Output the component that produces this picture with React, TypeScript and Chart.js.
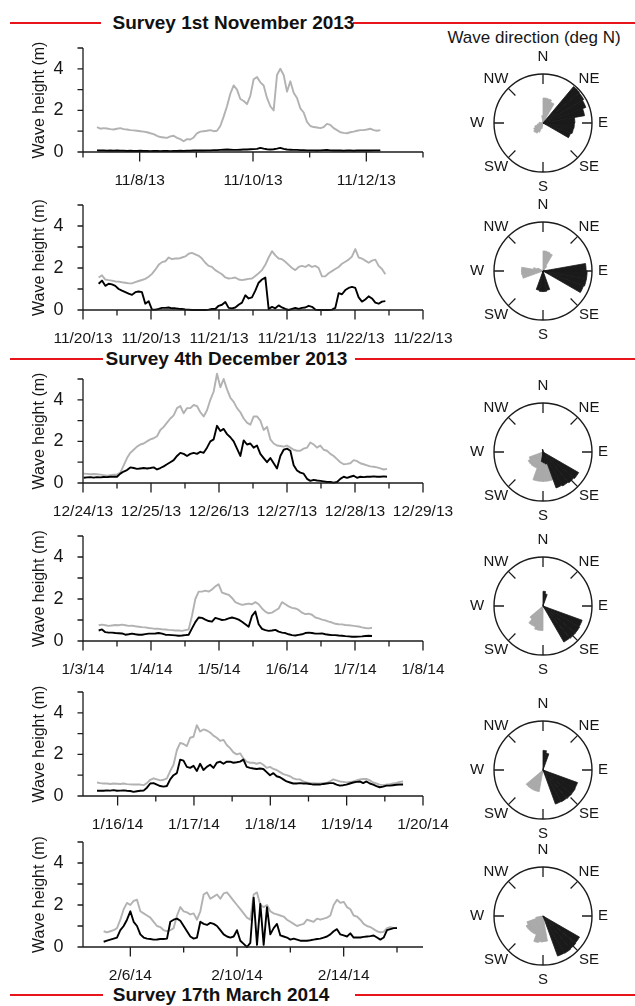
import React, { useEffect, useRef } from 'react';
import { Chart, registerables } from 'chart.js';

Chart.register(...registerables);
const FONT = "'Liberation Sans', Arial, Helvetica, sans-serif";
Chart.defaults.font.family = FONT;
Chart.defaults.color = '#161616';

// ================= DATA =================
const yTickValues = [0, 1, 2, 3, 4, 5];
const yTickLabels = ['0', '', '2', '', '4', ''];
const yTitle = 'Wave height (m)';

// Panel 1 : x = days since 11/7/13
const p1Range = [0, 6];
const p1TickValues = [0, 1, 2, 3, 4, 5, 6];
const p1TickLabels = ['', '11/8/13', '', '11/10/13', '', '11/12/13', ''];
const p1Time = [0.247, 5.247];
const p1Grey = [1.2,1.12,1.15,1.13,1.1,1.08,1.12,1.15,1.1,1.08,1.05,1.04,1.02,1.0,0.98,0.95,0.9,0.86,0.78,0.72,0.7,0.68,0.75,0.78,0.68,0.62,0.52,0.62,0.6,0.7,0.9,0.98,1.0,1.02,1.05,1.0,1.02,1.25,1.7,2.2,2.8,3.2,3.0,2.55,2.45,2.3,2.7,3.5,3.6,3.35,3.2,2.6,2.2,2.0,3.7,4.0,3.7,2.9,3.4,2.85,2.6,2.1,1.9,1.45,1.25,1.2,1.18,1.15,1.2,1.35,1.3,1.15,1.05,0.95,0.92,0.9,0.95,0.98,1.02,1.05,1.05,1.08,1.12,1.05,1.02,1.05];
const p1Black = [0.08,0.07,0.07,0.06,0.07,0.06,0.07,0.06,0.06,0.05,0.06,0.05,0.05,0.06,0.05,0.05,0.04,0.05,0.05,0.04,0.05,0.05,0.04,0.05,0.05,0.06,0.05,0.06,0.06,0.07,0.07,0.08,0.07,0.08,0.08,0.09,0.09,0.1,0.11,0.12,0.11,0.1,0.1,0.11,0.12,0.12,0.13,0.14,0.15,0.2,0.16,0.13,0.12,0.13,0.16,0.2,0.15,0.12,0.11,0.1,0.1,0.09,0.09,0.08,0.08,0.08,0.07,0.08,0.09,0.1,0.08,0.07,0.07,0.07,0.06,0.07,0.07,0.06,0.07,0.07,0.08,0.07,0.07,0.08,0.08,0.08];

// Panel 2 : x = hours since 11/20/13 00:00
const p2Range = [0, 60];
const p2TickValues = [0, 6, 12, 18, 24, 30, 36, 42, 48, 54, 60];
const p2TickLabels = ['11/20/13', '', '11/20/13', '', '11/21/13', '', '11/21/13', '', '11/22/13', '', '11/22/13'];
const p2Time = [2.76, 53.35];
const p2Grey = [1.55,1.65,1.45,1.42,1.4,1.36,1.35,1.32,1.3,1.27,1.27,1.33,1.38,1.43,1.48,1.58,1.72,1.92,2.15,2.28,2.32,2.5,2.42,2.45,2.45,2.5,2.55,2.68,2.72,2.65,2.58,2.45,2.25,2.1,2.05,1.9,1.8,1.7,1.55,1.5,1.52,1.55,1.45,1.42,1.45,1.48,1.5,1.62,1.75,1.9,2.15,2.5,2.8,2.6,2.45,2.42,2.3,2.15,2.0,1.9,2.05,2.1,2.05,2.15,2.05,2.1,2.0,1.6,1.6,1.75,1.85,1.95,2.05,2.2,2.3,2.4,2.55,2.9,2.5,2.45,2.35,2.25,2.35,2.4,2.1,1.95,1.7];
const p2Black = [1.25,1.4,1.15,1.25,1.22,1.15,1.0,0.92,0.85,0.78,0.72,0.85,0.88,0.85,0.3,0.42,0.02,0.02,0.05,0.1,0.1,0.12,0.08,0.08,0.06,0.05,0.03,0.02,0.0,0.0,0.0,0.0,0.0,0.02,0.05,0.05,0.2,0.25,0.38,0.1,0.08,0.12,0.25,0.35,0.7,0.55,0.6,0.92,1.3,1.45,1.55,0.05,0.15,0.08,0.22,0.12,0.05,0.0,0.05,0.1,0.05,0.1,0.12,0.2,0.15,0.02,0.0,0.0,0.0,0.0,0.02,0.1,0.8,0.75,0.95,1.05,1.1,1.05,0.6,0.4,0.5,0.65,0.55,0.35,0.3,0.4,0.42];

// Panel 3 : x = hours since 12/24/13 00:00
const p3Range = [0, 120];
const p3TickValues = [0, 12, 24, 36, 48, 60, 72, 84, 96, 108, 120];
const p3TickLabels = ['12/24/13', '', '12/25/13', '', '12/26/13', '', '12/27/13', '', '12/28/13', '', '12/29/13'];
const p3Time = [0.24, 107.3];
const p3Grey = [0.45,0.44,0.42,0.43,0.42,0.4,0.38,0.35,0.38,0.4,0.4,0.5,0.85,1.2,1.45,1.6,1.75,1.85,1.9,2.0,2.1,2.15,2.25,2.55,2.7,2.9,3.1,3.25,3.6,3.7,3.35,3.6,3.6,3.75,3.7,3.4,3.2,3.5,4.0,4.4,5.25,4.6,5.0,4.5,4.1,3.9,3.6,3.4,3.1,2.9,2.8,3.2,3.2,3.0,2.55,2.7,2.1,1.9,1.8,1.78,1.75,1.8,1.7,1.6,1.55,1.55,1.65,1.7,1.95,1.85,1.7,1.8,1.6,1.55,1.4,1.3,1.15,1.0,0.9,0.92,0.95,1.1,1.05,0.95,0.9,0.85,0.8,0.78,0.75,0.7,0.65,0.68];
const p3Black = [0.25,0.27,0.28,0.26,0.28,0.27,0.29,0.28,0.3,0.3,0.3,0.45,0.55,0.62,0.75,0.72,0.68,0.7,0.72,0.7,0.72,0.75,0.65,0.72,0.8,0.9,1.0,1.1,1.3,1.45,1.4,1.3,1.4,1.45,1.4,1.5,1.45,1.7,2.0,2.1,2.75,2.5,2.6,2.35,2.2,2.0,1.65,1.3,2.05,1.85,1.9,1.7,1.8,1.4,1.2,1.0,1.2,0.95,0.7,1.3,1.6,1.65,1.55,0.85,0.6,0.5,0.45,0.2,0.1,0.15,0.12,0.1,0.08,0.05,0.05,0.02,0.05,0.2,0.3,0.25,0.3,0.35,0.25,0.3,0.28,0.3,0.3,0.32,0.3,0.3,0.32,0.3];

// Panel 4 : x = hours since 1/3/14 00:00
const p4Range = [0, 120];
const p4TickValues = [0, 12, 24, 36, 48, 60, 72, 84, 96, 108, 120];
const p4TickLabels = ['1/3/14', '', '1/4/14', '', '1/5/14', '', '1/6/14', '', '1/7/14', '', '1/8/14'];
const p4Time = [5.53, 102.0];
const p4Grey = [0.75,0.78,0.75,0.72,0.74,0.76,0.75,0.78,0.75,0.72,0.73,0.7,0.68,0.66,0.65,0.62,0.6,0.58,0.58,0.56,0.55,0.53,0.52,0.5,0.5,0.48,0.52,0.55,1.2,2.0,2.35,2.35,2.4,2.35,2.45,2.6,2.7,2.3,2.25,2.2,2.05,1.85,1.78,1.72,1.75,1.78,1.75,1.85,1.75,1.55,1.4,1.32,1.35,1.45,1.55,1.85,1.75,1.65,1.58,1.55,1.48,1.35,1.28,1.3,1.25,1.12,1.08,1.02,0.98,0.92,0.88,0.82,0.8,0.79,0.76,0.75,0.73,0.71,0.69,0.65,0.62,0.6,0.63];
const p4Black = [0.5,0.55,0.42,0.4,0.4,0.38,0.37,0.36,0.3,0.32,0.35,0.32,0.3,0.3,0.33,0.35,0.35,0.36,0.38,0.35,0.3,0.29,0.28,0.27,0.25,0.26,0.28,0.3,0.6,0.9,1.12,1.1,1.02,0.95,0.92,1.1,1.05,1.0,1.02,1.08,1.12,1.08,1.02,0.92,0.8,0.68,1.2,1.4,0.8,0.58,0.52,0.48,0.5,0.53,0.45,0.4,0.38,0.32,0.28,0.26,0.29,0.32,0.38,0.4,0.38,0.35,0.35,0.36,0.32,0.3,0.28,0.28,0.26,0.25,0.23,0.22,0.2,0.2,0.21,0.22,0.24,0.25,0.24];

// Panel 5 : x = days since 1/15/14 00:00
const p5Range = [0.5465, 5];
const p5TickValues = [1, 1.5, 2, 2.5, 3, 3.5, 4, 4.5, 5];
const p5TickLabels = ['1/16/14', '', '1/17/14', '', '1/18/14', '', '1/19/14', '', '1/20/14'];
const p5Time = [0.73, 4.739];
const p5Grey = [0.65,0.62,0.6,0.6,0.58,0.6,0.59,0.58,0.6,0.57,0.56,0.55,0.56,0.55,0.52,0.62,0.78,0.85,0.8,0.75,0.78,0.85,1.2,1.5,2.2,2.55,2.5,2.4,2.8,2.85,3.4,3.1,3.2,3.15,3.05,2.9,2.8,2.65,2.7,2.45,2.3,2.1,2.0,2.05,1.8,1.65,1.6,1.6,1.55,1.6,1.5,1.35,1.4,1.3,1.25,1.15,1.05,1.0,0.95,0.85,0.8,0.8,0.7,0.65,0.63,0.62,0.6,0.6,0.61,0.62,0.7,0.8,0.75,0.7,0.68,0.65,0.67,0.7,0.75,0.8,0.82,0.82,0.75,0.65,0.6,0.55,0.52,0.55,0.57,0.6,0.63,0.68,0.7];
const p5Black = [0.25,0.26,0.25,0.27,0.26,0.28,0.25,0.26,0.27,0.25,0.24,0.2,0.23,0.25,0.26,0.4,0.6,0.62,0.55,0.48,0.45,0.48,0.8,1.0,1.1,1.75,1.7,1.4,1.35,1.45,1.2,1.55,1.25,1.4,1.5,1.35,1.6,1.65,1.55,1.65,1.65,1.6,1.62,1.65,1.75,1.4,1.35,1.32,1.3,1.32,1.3,1.15,1.0,1.1,0.95,0.9,0.8,0.7,0.65,0.6,0.6,0.62,0.6,0.6,0.58,0.55,0.56,0.55,0.58,0.6,0.62,0.62,0.55,0.5,0.52,0.55,0.6,0.65,0.68,0.7,0.62,0.7,0.6,0.55,0.48,0.42,0.45,0.5,0.5,0.52,0.54,0.55,0.55];

// Panel 6 : x = days since 2/4/14 00:00
const p6Range = [0.225, 12.975];
const p6TickValues = [2, 4, 6, 8, 10, 12];
const p6TickLabels = ['2/6/14', '', '2/10/14', '', '2/14/14', ''];
const p6Time = [1.0, 12.0];
const p6Grey = [0.75,0.7,0.75,0.8,0.9,1.3,1.8,2.1,2.0,2.2,2.25,1.7,1.6,1.5,1.4,1.2,1.0,0.95,0.8,0.75,0.8,0.9,1.5,1.9,1.7,1.65,1.55,1.6,1.3,1.7,2.5,2.6,2.3,2.4,2.5,2.3,2.55,2.6,2.4,2.2,2.0,1.8,1.6,1.4,1.3,2.5,2.6,2.0,1.9,2.0,1.7,1.6,1.55,1.5,1.45,1.3,1.2,1.1,1.0,1.05,1.1,1.3,1.25,1.2,1.35,1.3,1.35,1.4,1.5,2.0,2.25,2.1,2.15,1.9,1.8,1.5,1.45,1.3,1.1,1.0,0.95,0.85,0.75,0.7,0.72,0.9,0.95,0.9,0.92];
const p6Black = [0.25,0.3,0.35,0.4,0.45,0.8,1.0,1.3,1.7,1.2,1.0,0.6,0.45,0.4,0.38,0.35,0.36,0.38,0.38,0.4,1.2,1.3,1.35,1.25,1.0,0.75,0.5,0.4,0.45,1.2,1.1,1.05,1.15,1.1,1.0,0.8,0.6,0.5,0.45,0.5,0.8,0.3,0.15,0.0,0.2,2.35,0.1,2.05,0.1,1.9,0.6,0.9,1.1,0.55,0.5,0.45,0.35,0.4,0.35,0.3,0.3,0.3,0.32,0.35,0.38,0.4,0.45,0.5,0.6,0.75,0.85,0.6,0.55,0.5,0.65,0.45,0.45,0.45,0.48,0.5,0.52,0.55,0.45,0.35,0.45,0.8,0.85,0.9,0.9];

// Wave roses: 36 direction bins of 10 deg (clockwise from N), relative radius
const compassLabels = ['N', 'NE', 'E', 'SE', 'S', 'SW', 'W', 'NW'];
const dirBins = Array.from({ length: 36 }, (_, i) => `${i * 10}°`);
const rose1Black = [0,0,0,0,0.97,0.96, 0.93,0.86,0.65,0.64,0.63,0.6, 0,0,0,0,0,0, 0,0,0,0,0,0, 0,0,0,0,0,0, 0,0,0,0,0,0];
const rose1Grey  = [0.51,0.5,0.45,0,0,0, 0,0,0,0,0,0, 0,0,0,0,0,0, 0,0.12,0.2,0.24,0.25,0.22, 0.18,0.12,0,0.08,0,0, 0,0,0,0,0,0.15];
const rose2Black = [0,0,0,0,0,0, 0,0,0.88,0.9,0.9,0.88, 0,0,0,0,0.4,0.42, 0.42,0.4,0,0,0,0, 0,0,0,0,0,0, 0,0,0,0,0,0];
const rose2Grey  = [0.41,0.4,0.38,0.12,0,0, 0,0,0,0,0,0, 0,0,0,0,0,0, 0,0,0,0,0,0, 0,0.43,0.44,0.44,0.2,0.12, 0,0,0,0,0,0];
const rose3Black = [0,0,0,0,0,0, 0,0,0,0,0,0, 0.84,0.82,0.8,0.78,0.25,0.22, 0.2,0,0,0,0,0, 0,0,0,0,0,0, 0,0,0,0,0.05,0.05];
const rose3Grey  = [0,0,0,0,0,0, 0,0,0,0,0,0, 0,0,0,0,0.6,0.6, 0.6,0.6,0.35,0.35,0.35,0.35, 0.3,0,0,0,0,0, 0,0,0,0,0,0];
const rose4Black = [0.3,0.25,0,0,0,0, 0,0,0,0,0,0.85, 0.86,0.86,0.85,0,0,0, 0,0,0,0,0,0, 0,0,0,0,0,0, 0,0,0,0,0,0];
const rose4Grey  = [0,0,0,0,0,0, 0,0,0,0,0,0, 0,0,0,0,0,0, 0.5,0.5,0.45,0.45,0.35,0, 0,0,0,0,0,0, 0,0,0,0,0,0];
const rose5Black = [0.4,0.35,0,0,0,0, 0,0,0,0,0,0.75, 0.76,0.76,0.75,0.74,0,0, 0,0,0,0,0,0, 0,0,0,0,0,0, 0,0,0,0,0,0];
const rose5Grey  = [0,0,0,0,0,0, 0,0,0,0,0,0, 0,0,0,0,0,0, 0,0.45,0.45,0.45,0.45,0, 0,0,0,0,0,0, 0,0,0,0,0,0];
const rose6Black = [0,0,0,0,0,0, 0,0,0,0,0,0, 0.86,0.87,0.88,0.87,0,0, 0,0,0,0,0,0, 0,0,0,0,0,0, 0,0,0,0,0,0];
const rose6Grey  = [0,0,0,0,0,0, 0,0,0,0,0,0, 0,0,0,0,0,0.52, 0.53,0.55,0.4,0.4,0.4,0.4, 0.35,0.15,0,0,0,0, 0,0,0,0,0,0];

const headerTexts = ['Survey 1st November 2013', 'Survey 4th December 2013', 'Survey 17th March 2014'];
const roseTitle = 'Wave direction (deg N)';

// ================= LAYOUT / STYLE =================
const AXIS = '#1c1c1c';
const GREY = '#b2b2b2';
const RED = '#e8141c';
const CANVAS_W = 470;
const PLOT_LEFT = 83;
const PLOT_RIGHT = 423;
const PAD_TOP = 12;
const XAXIS_H = 45;

const panels = [
  { top: 48.2, bottom: 152.3, range: p1Range, tv: p1TickValues, tl: p1TickLabels, time: p1Time, grey: p1Grey, black: p1Black },
  { top: 205, bottom: 310, range: p2Range, tv: p2TickValues, tl: p2TickLabels, time: p2Time, grey: p2Grey, black: p2Black },
  { top: 379.3, bottom: 483.3, range: p3Range, tv: p3TickValues, tl: p3TickLabels, time: p3Time, grey: p3Grey, black: p3Black },
  { top: 535.7, bottom: 640.7, range: p4Range, tv: p4TickValues, tl: p4TickLabels, time: p4Time, grey: p4Grey, black: p4Black },
  { top: 691.7, bottom: 796, range: p5Range, tv: p5TickValues, tl: p5TickLabels, time: p5Time, grey: p5Grey, black: p5Black },
  { top: 842.3, bottom: 947.3, range: p6Range, tv: p6TickValues, tl: p6TickLabels, time: p6Time, grey: p6Grey, black: p6Black },
];

const roses = [
  { cy: 122.5, black: rose1Black, grey: rose1Grey },
  { cy: 271, black: rose2Black, grey: rose2Grey },
  { cy: 452, black: rose3Black, grey: rose3Grey },
  { cy: 606, black: rose4Black, grey: rose4Grey },
  { cy: 770, black: rose5Black, grey: rose5Grey },
  { cy: 916, black: rose6Black, grey: rose6Grey },
];
const ROSE_CX = 543;
const ROSE_SIZE = 170;

const headers = [
  { y: 22.5, cx: 233.5, leftEnd: 101, rightStart: 353 },
  { y: 359, cx: 226.5, leftEnd: 103, rightStart: 355 },
  { y: 994.5, cx: 221, leftEnd: 103, rightStart: 355 },
];

function series(values: number[], time: number[]) {
  const n = values.length;
  return values.map((v, i) => ({ x: time[0] + (i * (time[1] - time[0])) / (n - 1), y: v }));
}

function WavePanel({ p }: { p: any }) {
  const ref = useRef<HTMLCanvasElement>(null);
  const height = PAD_TOP + (p.bottom - p.top) + XAXIS_H;
  useEffect(() => {
    const labelled = p.tv.filter((_: number, i: number) => p.tl[i] !== '');
    const axesPlugin = {
      id: 'axesMarks',
      afterDraw(chart: any) {
        const { ctx, chartArea, scales } = chart;
        const x = scales.x, y = scales.y;
        ctx.save();
        ctx.strokeStyle = AXIS;
        ctx.lineWidth = 1.3;
        ctx.lineCap = 'butt';
        ctx.beginPath();
        ctx.moveTo(chartArea.left, y.getPixelForValue(5));
        ctx.lineTo(chartArea.left, chartArea.bottom);
        ctx.moveTo(chartArea.left - 0.6, chartArea.bottom);
        ctx.lineTo(chartArea.right, chartArea.bottom);
        for (const v of yTickValues) {
          const py = y.getPixelForValue(v);
          ctx.moveTo(chartArea.left - 5.5, py);
          ctx.lineTo(chartArea.left, py);
        }
        p.tv.forEach((v: number, i: number) => {
          const px = x.getPixelForValue(v);
          const len = p.tl[i] !== '' ? 9.5 : 5.5;
          ctx.moveTo(px, chartArea.bottom);
          ctx.lineTo(px, chartArea.bottom + len);
        });
        ctx.stroke();
        ctx.restore();
      },
    };
    const chart = new Chart(ref.current as HTMLCanvasElement, {
      type: 'line',
      data: {
        datasets: [
          { data: series(p.black, p.time), borderColor: '#000', borderWidth: 1.9, pointRadius: 0, tension: 0, clip: false, borderJoinStyle: 'round' } as any,
          { data: series(p.grey, p.time), borderColor: GREY, borderWidth: 1.9, pointRadius: 0, tension: 0, clip: false, borderJoinStyle: 'round' } as any,
        ],
      },
      options: {
        animation: false,
        responsive: false,
        events: [],
        layout: { padding: { top: PAD_TOP, right: CANVAS_W - PLOT_RIGHT, bottom: 0, left: 0 } },
        plugins: { legend: { display: false }, tooltip: { enabled: false } },
        scales: {
          x: {
            type: 'linear',
            min: p.range[0],
            max: p.range[1],
            grid: { display: false, drawTicks: false },
            border: { display: false },
            afterBuildTicks: (s: any) => { s.ticks = labelled.map((v: number) => ({ value: v })); },
            afterFit: (s: any) => { s.height = XAXIS_H; s.paddingLeft = 0; s.paddingRight = 0; },
            ticks: {
              autoSkip: false, maxRotation: 0, minRotation: 0, padding: 19,
              font: { size: 15.5, family: FONT }, color: '#161616',
              callback: (v: any) => {
                const i = p.tv.findIndex((t: number) => Math.abs(t - v) < 1e-6);
                return i >= 0 ? p.tl[i] : '';
              },
            },
          },
          y: {
            type: 'linear',
            min: 0,
            max: 5,
            grid: { display: false, drawTicks: false },
            border: { display: false },
            afterBuildTicks: (s: any) => { s.ticks = yTickValues.filter((_, i) => yTickLabels[i] !== '').map((v) => ({ value: v })); },
            afterFit: (s: any) => { s.width = PLOT_LEFT; s.paddingTop = 0; s.paddingBottom = 0; },
            ticks: {
              padding: 19.5, font: { size: 18, family: FONT }, color: '#161616',
              callback: (v: any) => {
                const i = yTickValues.indexOf(Number(v));
                return i >= 0 ? yTickLabels[i] : '';
              },
            },
            title: { display: true, text: yTitle, font: { size: 16, family: FONT }, color: '#161616', padding: { top: 29.7, bottom: 0 } },
          },
        },
      } as any,
      plugins: [axesPlugin],
    });
    return () => chart.destroy();
  }, []);
  return (
    <canvas
      ref={ref}
      width={CANVAS_W}
      height={height}
      style={{ position: 'absolute', left: 0, top: p.top - PAD_TOP, width: CANVAS_W, height }}
    />
  );
}

const labelOffsets: Record<string, [number, number]> = {
  N: [0, -66], NE: [46, -44], E: [60, 0], SE: [46, 44], S: [0, 64], SW: [-47, 44], W: [-66, 0], NW: [-47, -44],
};

function Rose({ r }: { r: any }) {
  const ref = useRef<HTMLCanvasElement>(null);
  useEffect(() => {
    const compass = {
      id: 'compass',
      afterDraw(chart: any) {
        const { ctx } = chart;
        const sc = chart.scales.r;
        const cx = sc.xCenter, cy = sc.yCenter, R = sc.drawingArea;
        ctx.save();
        ctx.strokeStyle = AXIS;
        ctx.lineWidth = 1.4;
        ctx.beginPath();
        ctx.arc(cx, cy, R, 0, Math.PI * 2);
        ctx.stroke();
        ctx.lineWidth = 1.3;
        ctx.beginPath();
        for (let k = 0; k < 8; k++) {
          const a = (k * Math.PI) / 4;
          const sx = Math.sin(a), sy = -Math.cos(a);
          ctx.moveTo(cx + sx * R, cy + sy * R);
          ctx.lineTo(cx + sx * (R - 10), cy + sy * (R - 10));
        }
        ctx.stroke();
        ctx.fillStyle = '#161616';
        ctx.font = `15px ${FONT}`;
        ctx.textAlign = 'center';
        ctx.textBaseline = 'middle';
        for (const lab of compassLabels) {
          const [dx, dy] = labelOffsets[lab];
          ctx.fillText(lab, cx + dx, cy + dy);
        }
        ctx.restore();
      },
    };
    const bw = (c: any) => (c.raw > 0 ? 0.8 : 0);
    const chart = new Chart(ref.current as HTMLCanvasElement, {
      type: 'polarArea',
      data: {
        labels: dirBins,
        datasets: [
          { data: r.black, backgroundColor: '#1a1a1a', borderColor: '#1a1a1a', borderWidth: bw },
          { data: r.grey, backgroundColor: '#a9a9a9', borderColor: '#a9a9a9', borderWidth: bw },
        ],
      },
      options: {
        animation: false,
        responsive: false,
        events: [],
        layout: { padding: (ROSE_SIZE - 98) / 2 },
        plugins: { legend: { display: false }, tooltip: { enabled: false } },
        scales: {
          r: {
            display: false, min: 0, max: 1, startAngle: 0,
            grid: { display: false }, angleLines: { display: false },
            ticks: { display: false }, pointLabels: { display: false },
          },
        },
      } as any,
      plugins: [compass],
    });
    return () => chart.destroy();
  }, []);
  return (
    <canvas
      ref={ref}
      width={ROSE_SIZE}
      height={ROSE_SIZE}
      style={{ position: 'absolute', left: ROSE_CX - ROSE_SIZE / 2, top: Math.round(r.cy) - ROSE_SIZE / 2, width: ROSE_SIZE, height: ROSE_SIZE }}
    />
  );
}

export default function App() {
  return (
    <div style={{ position: 'absolute', left: 0, top: 0, width: 635, height: 1006, overflow: 'hidden', background: '#fff', fontFamily: FONT }}>
      {headers.map((h, i) => (
        <React.Fragment key={i}>
          <div style={{ position: 'absolute', left: 10, top: h.y - 1, width: h.leftEnd - 10, height: 2, background: RED }} />
          <div style={{ position: 'absolute', left: h.rightStart, top: h.y - 1, width: 635 - h.rightStart, height: 2, background: RED }} />
          <div style={{ position: 'absolute', left: h.cx, top: h.y, transform: 'translate(-50%, -50%)', whiteSpace: 'nowrap', fontWeight: 'bold', fontSize: 19, lineHeight: '20px', color: '#111' }}>
            {headerTexts[i]}
          </div>
        </React.Fragment>
      ))}
      <div style={{ position: 'absolute', left: 534, top: 37.5, transform: 'translate(-50%, -50%)', whiteSpace: 'nowrap', fontSize: 17, lineHeight: '18px', color: '#161616' }}>
        {roseTitle}
      </div>
      {panels.map((p, i) => <WavePanel key={i} p={p} />)}
      {roses.map((r, i) => <Rose key={i} r={r} />)}
    </div>
  );
}
